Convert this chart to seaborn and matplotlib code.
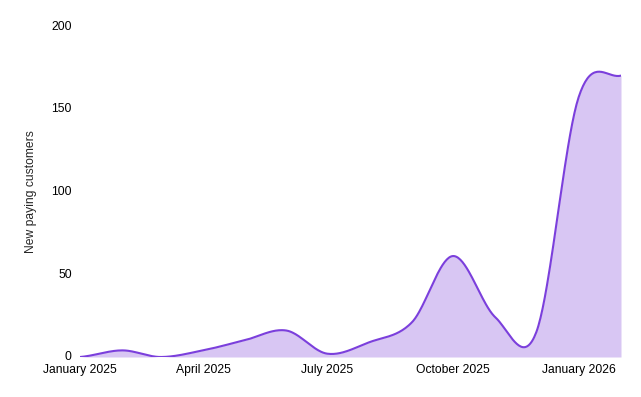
import numpy as np
import pandas as pd
import seaborn as sns
import matplotlib
matplotlib.use("Agg")
import matplotlib.pyplot as plt
import matplotlib.dates as mdates
from matplotlib.transforms import ScaledTranslation

# monthly new paying customers
months = ["2025-01-01", "2025-02-01", "2025-03-01", "2025-04-01", "2025-05-01",
          "2025-06-01", "2025-07-01", "2025-08-01", "2025-09-01", "2025-10-01",
          "2025-11-01", "2025-12-01", "2026-01-01", "2026-02-01"]
customers = [0, 4, 0, 4, 10, 16, 2, 9, 21, 61, 24, 15, 157, 170]
y_ticks = [0, 50, 100, 150, 200]
y_label = "New paying customers"

LINE = "#7b3fdc"
FILL = "#d8c6f3"


def catmull_rom(x, y, n=40):
    # cubic hermite with catmull-rom tangents, just for drawing a smooth line
    x = np.asarray(x, float)
    y = np.asarray(y, float)
    m = np.zeros_like(y)
    m[1:-1] = (y[2:] - y[:-2]) / (x[2:] - x[:-2])
    m[0] = 0.5 * (y[1] - y[0]) / (x[1] - x[0])
    m[-1] = 0.5 * (y[-1] - y[-2]) / (x[-1] - x[-2])
    xs, ys = [], []
    for i in range(len(x) - 1):
        h = x[i + 1] - x[i]
        t = np.linspace(0, 1, n, endpoint=(i == len(x) - 2))
        h00 = 2 * t**3 - 3 * t**2 + 1
        h10 = t**3 - 2 * t**2 + t
        h01 = -2 * t**3 + 3 * t**2
        h11 = t**3 - t**2
        xs.append(x[i] + t * h)
        ys.append(h00 * y[i] + h10 * h * m[i] + h01 * y[i + 1] + h11 * h * m[i + 1])
    return np.concatenate(xs), np.concatenate(ys)


dates = pd.to_datetime(months)
xnum = mdates.date2num(dates)
sx, sy = catmull_rom(xnum, customers)
smooth = pd.DataFrame({"date": mdates.num2date(sx), "value": sy})
smooth["date"] = smooth["date"].dt.tz_localize(None)

sns.set_style("white")
plt.rcParams["font.family"] = ["Liberation Sans", "DejaVu Sans"]

fig = plt.figure(figsize=(6.41, 3.97), dpi=100)
ax = fig.add_axes([80 / 641, 1 - 357 / 397, 541 / 641, 331 / 397])

ax.fill_between(smooth["date"], 0, smooth["value"], color=FILL, lw=0)
sns.lineplot(data=smooth, x="date", y="value", color=LINE, linewidth=1.5, ax=ax)

ax.set_xlim(dates[0], dates[-1])
ax.set_ylim(0, 200)
ax.set_yticks(y_ticks)
ax.xaxis.set_major_locator(mdates.MonthLocator(bymonth=[1, 4, 7, 10]))
ax.xaxis.set_major_formatter(mdates.DateFormatter("%B %Y"))
ax.tick_params(axis="both", length=0, labelsize=8.7, colors="#000000")
ax.tick_params(axis="y", pad=6)
ax.tick_params(axis="x", pad=5)
ax.set_xlabel("")
ax.set_ylabel(y_label, fontsize=8.7, labelpad=10)
for s in ax.spines.values():
    s.set_visible(False)
ax.grid(False)

# nudge y tick labels up a touch so "0" clears the first date label
shift = ScaledTranslation(0, 1 / 100, fig.dpi_scale_trans)
for lbl in ax.get_yticklabels():
    lbl.set_transform(lbl.get_transform() + shift)

fig.savefig("out.png", dpi=100)
